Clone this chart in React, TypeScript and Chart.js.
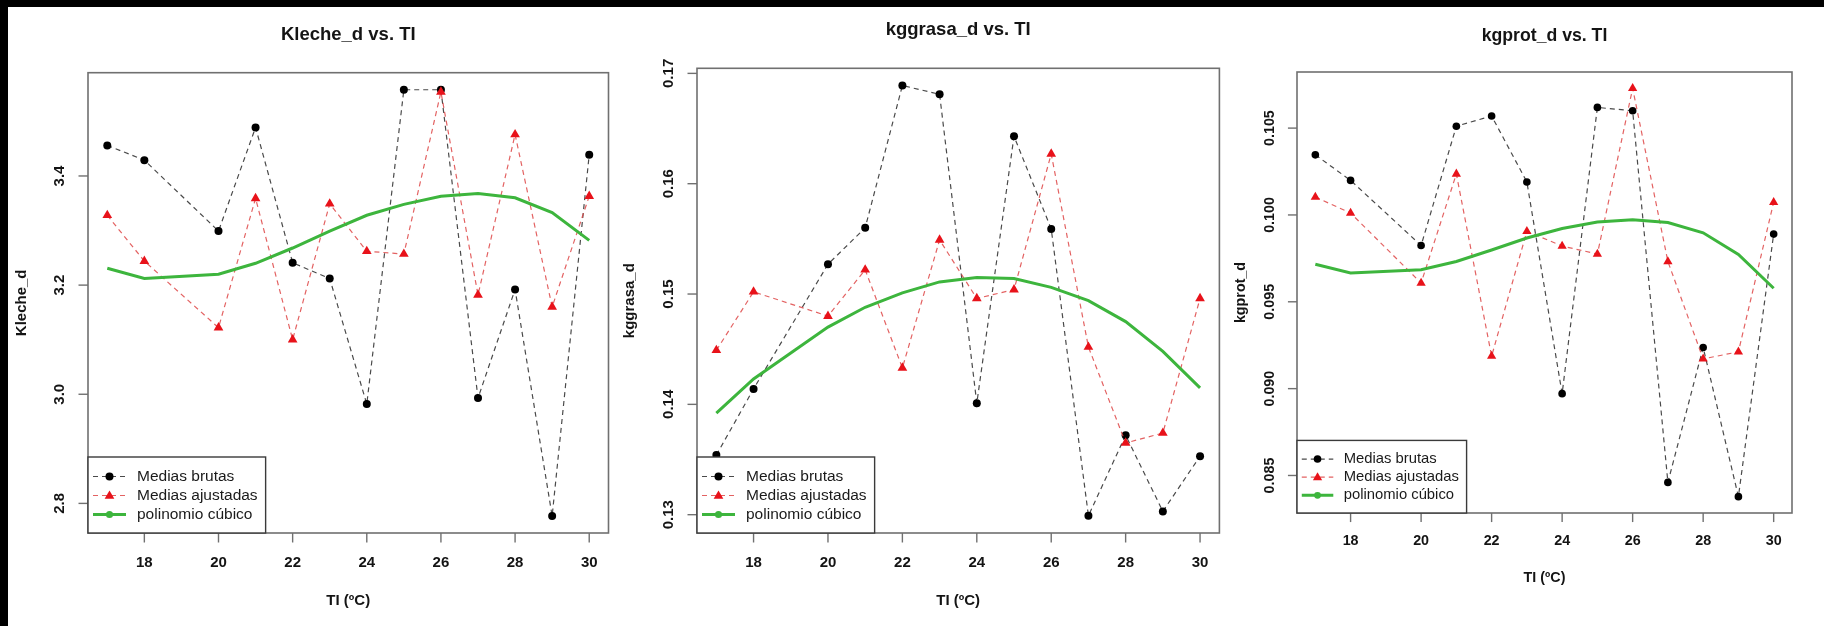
import React, { useEffect, useRef } from "react";
import { Chart, registerables } from "chart.js";

Chart.register(...registerables);

// ---------- data ----------
const temps = [17, 18, 20, 21, 22, 23, 24, 25, 26, 27, 28, 29, 30];
const xTickValues = [18, 20, 22, 24, 26, 28, 30];
const xTickLabels = ["18", "20", "22", "24", "26", "28", "30"];

const lecheBrutas = [3.456, 3.429, 3.299, 3.489, 3.241, 3.212, 2.982, 3.558, 3.558, 2.993, 3.192, 2.777, 3.439];
const lecheAjustadas = [3.328, 3.244, 3.122, 3.359, 3.1, 3.349, 3.262, 3.257, 3.554, 3.182, 3.476, 3.16, 3.363];
const lecheCubico = [3.231, 3.212, 3.22, 3.24, 3.268, 3.299, 3.328, 3.348, 3.363, 3.368, 3.36, 3.333, 3.282];
const lecheTickValues = [2.8, 3.0, 3.2, 3.4];
const lecheTickLabels = ["2.8", "3.0", "3.2", "3.4"];

const grasaBrutas = [0.1354, 0.1414, 0.1527, 0.156, 0.1689, 0.1681, 0.1401, 0.1643, 0.1559, 0.1299, 0.1372, 0.1303, 0.1353];
const grasaAjustadas = [0.1449, 0.1502, 0.148, 0.1522, 0.1433, 0.1549, 0.1496, 0.1504, 0.1627, 0.1452, 0.1365, 0.1374, 0.1496];
const grasaCubico = [0.1392, 0.1423, 0.147, 0.1488, 0.1501, 0.1511, 0.1515, 0.1514, 0.1506, 0.1494, 0.1475, 0.1448, 0.1415];
const grasaTickValues = [0.13, 0.14, 0.15, 0.16, 0.17];
const grasaTickLabels = ["0.13", "0.14", "0.15", "0.16", "0.17"];

const protBrutas = [0.10346, 0.10199, 0.09824, 0.10511, 0.1057, 0.1019, 0.08971, 0.10619, 0.106, 0.0846, 0.09237, 0.08378, 0.0989];
const protAjustadas = [0.10103, 0.10011, 0.09608, 0.10236, 0.09187, 0.09906, 0.09821, 0.09775, 0.10729, 0.09732, 0.09171, 0.09212, 0.10073];
const protCubico = [0.09716, 0.09666, 0.09684, 0.09732, 0.09798, 0.09867, 0.09922, 0.09959, 0.09973, 0.09956, 0.09897, 0.09773, 0.09578];
const protTickValues = [0.085, 0.09, 0.095, 0.1, 0.105];
const protTickLabels = ["0.085", "0.090", "0.095", "0.100", "0.105"];

const legendLabels = ["Medias brutas", "Medias ajustadas", "polinomio cúbico"];
const xAxisTitle = "TI (ºC)";

// ---------- styles ----------
const FAMILY = '"Liberation Sans", Arial, Helvetica, sans-serif';
const BLACK_LINE = "#4a4a4a";
const RED_LINE = "rgba(222,70,70,0.85)";
const RED_POINT = "#e8121a";
const GREEN = "#3db53d";

function rRange(arrs: number[][]) {
  const all = arrs.flat();
  const lo = Math.min(...all);
  const hi = Math.max(...all);
  const d = (hi - lo) * 0.04;
  return [lo - d, hi + d];
}

type PanelCfg = {
  title: string;
  yTitle: string;
  brutas: number[];
  ajustadas: number[];
  cubico: number[];
  yTickValues: number[];
  yTickLabels: string[];
  canvas: { x: number; y: number; w: number; h: number };
  area: { left: number; top: number; right: number; bottom: number };
  f: number;
  yTitleOff: number;
};

const panels: PanelCfg[] = [
  {
    title: "Kleche_d vs. TI",
    yTitle: "Kleche_d",
    brutas: lecheBrutas,
    ajustadas: lecheAjustadas,
    cubico: lecheCubico,
    yTickValues: lecheTickValues,
    yTickLabels: lecheTickLabels,
    canvas: { x: 8, y: 7, w: 607, h: 619 },
    area: { left: 88, top: 72.7, right: 608.5, bottom: 533 },
    f: 1,
    yTitleOff: 66,
  },
  {
    title: "kggrasa_d vs. TI",
    yTitle: "kggrasa_d",
    brutas: grasaBrutas,
    ajustadas: grasaAjustadas,
    cubico: grasaCubico,
    yTickValues: grasaTickValues,
    yTickLabels: grasaTickLabels,
    canvas: { x: 615, y: 7, w: 610, h: 619 },
    area: { left: 697, top: 68.3, right: 1219.5, bottom: 533 },
    f: 1,
    yTitleOff: 67,
  },
  {
    title: "kgprot_d vs. TI",
    yTitle: "kgprot_d",
    brutas: protBrutas,
    ajustadas: protAjustadas,
    cubico: protCubico,
    yTickValues: protTickValues,
    yTickLabels: protTickLabels,
    canvas: { x: 1225, y: 7, w: 599, h: 619 },
    area: { left: 1297, top: 72, right: 1792, bottom: 513 },
    f: 0.955,
    yTitleOff: 56,
  },
];

function seg(ctx: CanvasRenderingContext2D, x1: number, y1: number, x2: number, y2: number) {
  ctx.beginPath();
  ctx.moveTo(x1, y1);
  ctx.lineTo(x2, y2);
  ctx.stroke();
}

function triangle(ctx: CanvasRenderingContext2D, x: number, y: number, r: number) {
  ctx.beginPath();
  let a = 0;
  for (let i = 0; i < 3; i++) {
    const px = x + Math.sin(a) * r;
    const py = y - Math.cos(a) * r;
    if (i === 0) ctx.moveTo(px, py);
    else ctx.lineTo(px, py);
    a += (2 * Math.PI) / 3;
  }
  ctx.closePath();
  ctx.fill();
}

const rPlot = {
  id: "rPlot",
  beforeDatasetsDraw(chart: any, _args: any, o: any) {
    const { ctx, chartArea: a, scales } = chart;
    const f = o.f;
    ctx.save();
    // box
    ctx.strokeStyle = "#707070";
    ctx.lineWidth = 1.6;
    ctx.strokeRect(a.left, a.top, a.right - a.left, a.bottom - a.top);
    ctx.fillStyle = "#141414";
    ctx.textAlign = "center";
    ctx.textBaseline = "middle";
    // x axis
    ctx.font = `bold ${15 * f}px ${FAMILY}`;
    ctx.lineWidth = 1.4;
    xTickValues.forEach((v, i) => {
      const px = scales.x.getPixelForValue(v);
      seg(ctx, px, a.bottom, px, a.bottom + 9.5 * f);
      ctx.fillText(xTickLabels[i], px, a.bottom + 29.5 * f);
    });
    // y axis
    o.yTickValues.forEach((v: number, i: number) => {
      const py = scales.y.getPixelForValue(v);
      seg(ctx, a.left - 9.5 * f, py, a.left, py);
      ctx.save();
      ctx.translate(a.left - 28.5 * f, py);
      ctx.rotate(-Math.PI / 2);
      ctx.fillText(o.yTickLabels[i], 0, 0);
      ctx.restore();
    });
    // titles
    const cx = (a.left + a.right) / 2;
    const cy = (a.top + a.bottom) / 2;
    ctx.font = `bold ${18.5 * f}px ${FAMILY}`;
    ctx.fillText(o.title, cx, a.top - 38 * f);
    ctx.font = `bold ${15 * f}px ${FAMILY}`;
    ctx.fillText(xAxisTitle, cx, a.bottom + 68 * f);
    ctx.save();
    ctx.translate(a.left - o.yTitleOff, cy);
    ctx.rotate(-Math.PI / 2);
    ctx.fillText(o.yTitle, 0, 0);
    ctx.restore();
    ctx.restore();
  },
  afterDatasetsDraw(chart: any, _args: any, o: any) {
    const { ctx, chartArea: a } = chart;
    const f = o.f;
    ctx.save();
    ctx.font = `${15.5 * f}px ${FAMILY}`;
    const tw = Math.max(...legendLabels.map((t) => ctx.measureText(t).width));
    const x0 = a.left;
    const y1 = a.bottom;
    const y0 = a.bottom - 76 * f;
    const w = 49 * f + tw + 8 * f;
    ctx.fillStyle = "#ffffff";
    ctx.fillRect(x0, y0, w, y1 - y0);
    ctx.strokeStyle = "#3a3a3a";
    ctx.lineWidth = 1.4;
    ctx.strokeRect(x0, y0, w, y1 - y0);
    const rows = [56.5, 37.5, 18.5].map((d) => y1 - d * f);
    const sx1 = x0 + 5 * f;
    const sx2 = x0 + 38 * f;
    const mx = (sx1 + sx2) / 2;
    ctx.setLineDash([5, 4]);
    ctx.lineWidth = 1.2;
    ctx.strokeStyle = BLACK_LINE;
    seg(ctx, sx1, rows[0], sx2, rows[0]);
    ctx.strokeStyle = RED_LINE;
    seg(ctx, sx1, rows[1], sx2, rows[1]);
    ctx.setLineDash([]);
    ctx.strokeStyle = GREEN;
    ctx.lineWidth = 3;
    seg(ctx, sx1, rows[2], sx2, rows[2]);
    ctx.fillStyle = "#000";
    ctx.beginPath();
    ctx.arc(mx, rows[0], 4 * f, 0, Math.PI * 2);
    ctx.fill();
    ctx.fillStyle = RED_POINT;
    triangle(ctx, mx, rows[1] + 0.5, 5.6 * f);
    ctx.fillStyle = GREEN;
    ctx.beginPath();
    ctx.arc(mx, rows[2], 3.6 * f, 0, Math.PI * 2);
    ctx.fill();
    ctx.fillStyle = "#1a1a1a";
    ctx.textAlign = "left";
    ctx.textBaseline = "middle";
    legendLabels.forEach((t, i) => ctx.fillText(t, x0 + 49 * f, rows[i]));
    ctx.restore();
  },
};

function Panel({ cfg }: { cfg: PanelCfg }) {
  const ref = useRef<HTMLCanvasElement>(null);
  useEffect(() => {
    const [ymin, ymax] = rRange([cfg.brutas, cfg.ajustadas]);
    const [xmin, xmax] = rRange([temps]);
    const pts = (arr: number[]) => temps.map((t, i) => ({ x: t, y: arr[i] }));
    const c = cfg.canvas;
    const chart = new Chart(ref.current!, {
      type: "scatter",
      data: {
        datasets: [
          {
            label: legendLabels[2],
            data: pts(cfg.cubico),
            showLine: true,
            borderColor: GREEN,
            borderWidth: 3,
            pointRadius: 0,
            order: 0,
          },
          {
            label: legendLabels[1],
            data: pts(cfg.ajustadas),
            showLine: true,
            borderColor: RED_LINE,
            borderWidth: 1.2,
            borderDash: [5, 4],
            pointStyle: "triangle",
            pointRadius: 5.6 * cfg.f,
            pointBackgroundColor: RED_POINT,
            pointBorderColor: RED_POINT,
            pointBorderWidth: 0,
            order: 1,
          },
          {
            label: legendLabels[0],
            data: pts(cfg.brutas),
            showLine: true,
            borderColor: BLACK_LINE,
            borderWidth: 1.2,
            borderDash: [5, 4],
            pointStyle: "circle",
            pointRadius: 4 * cfg.f,
            pointBackgroundColor: "#000",
            pointBorderColor: "#000",
            pointBorderWidth: 0,
            order: 2,
          },
        ],
      } as any,
      options: {
        animation: false,
        responsive: false,
        devicePixelRatio: 1,
        events: [],
        layout: {
          padding: {
            left: cfg.area.left - c.x,
            top: cfg.area.top - c.y,
            right: c.x + c.w - cfg.area.right,
            bottom: c.y + c.h - cfg.area.bottom,
          },
        },
        scales: {
          x: { type: "linear", display: false, min: xmin, max: xmax },
          y: { type: "linear", display: false, min: ymin, max: ymax },
        },
        plugins: {
          legend: { display: false },
          tooltip: { enabled: false },
          rPlot: {
            f: cfg.f,
            title: cfg.title,
            yTitle: cfg.yTitle,
            yTitleOff: cfg.yTitleOff,
            yTickValues: cfg.yTickValues,
            yTickLabels: cfg.yTickLabels,
          },
        } as any,
      },
      plugins: [rPlot as any],
    });
    return () => chart.destroy();
  }, [cfg]);
  const c = cfg.canvas;
  return (
    <canvas
      ref={ref}
      width={c.w}
      height={c.h}
      style={{ position: "absolute", left: c.x, top: c.y, width: c.w, height: c.h }}
    />
  );
}

export default function App() {
  return (
    <div style={{ position: "absolute", left: 0, top: 0, width: 1824, height: 626, background: "#000", overflow: "hidden" }}>
      <div style={{ position: "absolute", left: 8, top: 7, width: 1816, height: 619, background: "#fff" }} />
      {panels.map((p) => (
        <Panel key={p.title} cfg={p} />
      ))}
    </div>
  );
}
